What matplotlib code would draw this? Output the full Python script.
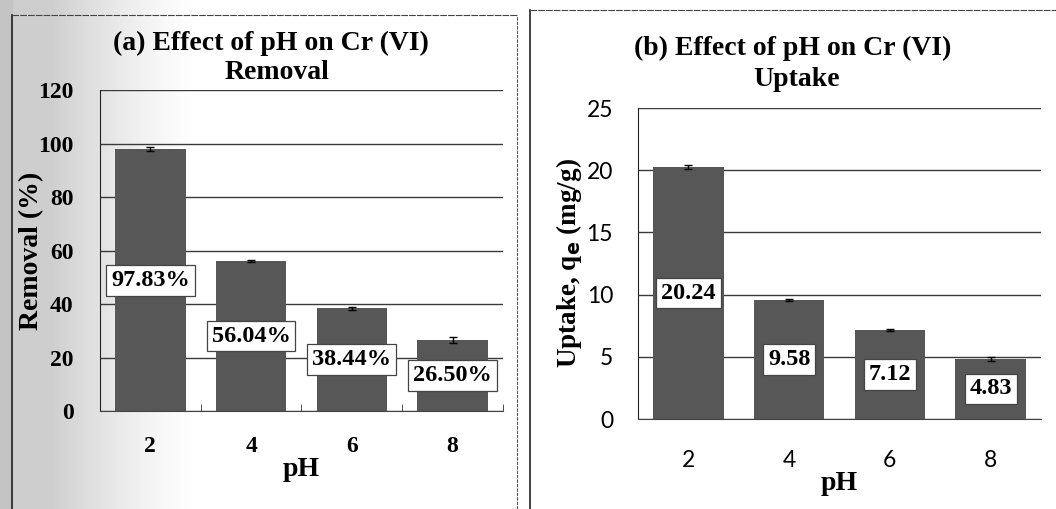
import matplotlib
matplotlib.use("Agg")
import matplotlib.pyplot as plt
import numpy as np
from matplotlib.patches import Rectangle

# data
ph = ["2", "4", "6", "8"]
removal = [97.83, 56.04, 38.44, 26.50]
removal_err = [0.8, 0.4, 0.5, 1.2]
uptake = [20.24, 9.58, 7.12, 4.83]
uptake_err = [0.15, 0.1, 0.08, 0.15]

serif = "Liberation Serif"
sans = "Lato"
bar_color = "#575757"
grid_color = "#3a3a3a"

fig = plt.figure(figsize=(10.56, 5.09), dpi=100)

# scanned page shading on the left side
bg = fig.add_axes([0, 0, 1, 1], zorder=-5)
bg.set_axis_off()
grad = np.linspace(1, 0, 256)
shade = np.clip(grad * 1.6 - 0.25, 0, 1) ** 1.3
img = np.ones((2, 256, 4))
img[..., :3] = 0.62
img[..., 3] = shade * 0.5
bg.imshow(img, extent=[0, 0.22, 0, 1], aspect="auto", transform=bg.transAxes)
bg.add_patch(Rectangle((0, 0), 0.0115, 1, color="#c4c4c4", transform=bg.transAxes))
bg.set_xlim(0, 1)
bg.set_ylim(0, 1)

# panel frames
fig.add_artist(plt.Line2D([0.0115, 0.0115], [0, 0.971], color="#222", lw=1.2))
fig.add_artist(plt.Line2D([0.0115, 0.49], [0.971, 0.971], color="#444", lw=0.8, ls=(0, (6, 1))))
fig.add_artist(plt.Line2D([0.49, 0.49], [0, 0.971], color="#555", lw=0.8, ls=(0, (3, 1))))
fig.add_artist(plt.Line2D([0.502, 0.502], [0, 0.98], color="#222", lw=1.2))
fig.add_artist(plt.Line2D([0.502, 1.0], [0.98, 0.98], color="#444", lw=0.8, ls=(0, (6, 1))))

x = np.arange(len(ph))


def draw_panel(ax, vals, errs, labels, ymax, step, tick_font, tick_weight, tick_size):
    ax.set_facecolor("none")
    ax.bar(x, vals, width=0.7, color=bar_color, zorder=2)
    ax.errorbar(x, vals, yerr=errs, fmt="none", ecolor="black", elinewidth=1,
                capsize=3, capthick=1, zorder=3)
    for xi, v, lab in zip(x, vals, labels):
        ax.text(xi, v / 2, lab, ha="center", va="center", fontsize=17.5,
                fontweight="bold", family=serif, zorder=4,
                bbox=dict(boxstyle="square,pad=0.2", fc="white", ec="#444", lw=0.9))
    ax.set_xlim(-0.5, 3.5)
    ax.set_ylim(0, ymax)
    ax.set_yticks(np.arange(0, ymax + 0.1, step))
    ax.set_xticks(x)
    ax.set_xticklabels(ph)
    ax.yaxis.grid(True, color=grid_color, lw=1)
    ax.set_axisbelow(True)
    for s in ["top", "right"]:
        ax.spines[s].set_visible(False)
    ax.spines["left"].set_color("#222")
    ax.spines["bottom"].set_color("#444")
    for lab in ax.get_xticklabels() + ax.get_yticklabels():
        lab.set_family(tick_font)
        lab.set_fontsize(tick_size)
        lab.set_fontweight(tick_weight)
    ax.set_xlabel("pH", fontsize=20, fontweight="bold", family=serif, labelpad=0)


# (a) removal
ax1 = fig.add_axes([0.0947, 0.1925, 0.3816, 0.6306])
draw_panel(ax1, removal, removal_err, ["{:.2f}%".format(v) for v in removal],
           120, 20, serif, "bold", 17)
ax1.tick_params(axis="y", length=0, pad=19)
ax1.tick_params(axis="x", length=0, pad=18)
ax1.set_xticks([0.5, 1.5, 2.5, 3.5], minor=True)
ax1.tick_params(axis="x", which="minor", direction="in", length=5, color="#333")
ax1.set_ylabel("Removal (%)", fontsize=20, fontweight="bold", family=serif, labelpad=-4)
fig.text(0.257, 0.915, "(a) Effect of pH on Cr (VI)", ha="center", va="center",
         fontsize=20, fontweight="bold", family=serif)
fig.text(0.262, 0.858, "Removal", ha="center", va="center",
         fontsize=20, fontweight="bold", family=serif)

# (b) uptake
ax2 = fig.add_axes([0.6042, 0.1768, 0.3816, 0.611])
draw_panel(ax2, uptake, uptake_err, ["{:.2f}".format(v) for v in uptake],
           25, 5, sans, "normal", 16.5)
ax2.tick_params(axis="y", length=0, pad=18)
ax2.tick_params(axis="x", length=0, pad=22)
ax2.set_ylabel("Uptake, q$_\\mathbf{e}$ (mg/g)", fontsize=19.5, fontweight="bold",
               family=serif, labelpad=2)
fig.text(0.751, 0.905, "(b) Effect of pH on Cr (VI)", ha="center", va="center",
         fontsize=20, fontweight="bold", family=serif)
fig.text(0.754, 0.843, "Uptake", ha="center", va="center",
         fontsize=20, fontweight="bold", family=serif)

fig.savefig("out.png", dpi=100)
